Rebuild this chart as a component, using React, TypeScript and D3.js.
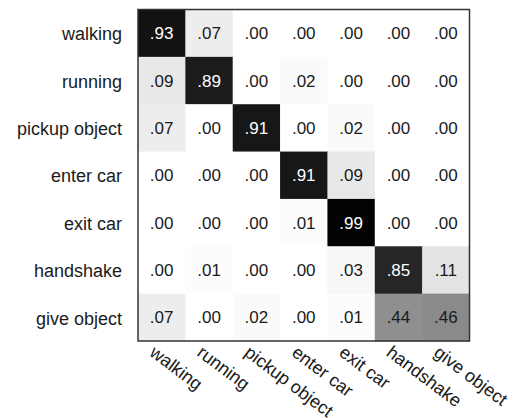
import React from "react";
import * as d3 from "d3";

const labels = ["walking", "running", "pickup object", "enter car", "exit car", "handshake", "give object"];
const walking = [0.93, 0.07, 0.0, 0.0, 0.0, 0.0, 0.0];
const running = [0.09, 0.89, 0.0, 0.02, 0.0, 0.0, 0.0];
const pickupObject = [0.07, 0.0, 0.91, 0.0, 0.02, 0.0, 0.0];
const enterCar = [0.0, 0.0, 0.0, 0.91, 0.09, 0.0, 0.0];
const exitCar = [0.0, 0.0, 0.0, 0.01, 0.99, 0.0, 0.0];
const handshake = [0.0, 0.01, 0.0, 0.0, 0.03, 0.85, 0.11];
const giveObject = [0.07, 0.0, 0.02, 0.0, 0.01, 0.44, 0.46];
const rows = [walking, running, pickupObject, enterCar, exitCar, handshake, giveObject];

const W = 516, H = 418;
const left = 138, top = 9.5, size = 331.5;
const font = "'Liberation Sans', Arial, Helvetica, sans-serif";

export default function App() {
  const x = d3.scaleBand<string>().domain(labels).range([left, left + size]);
  const y = d3.scaleBand<string>().domain(labels).range([top, top + size]);
  const gray = d3.scaleLinear<number>().domain([0, 1]).range([255, 0]);
  const fmt = (v: number) => d3.format(".2f")(v).replace(/^0/, "");
  const bw = x.bandwidth();
  const bh = y.bandwidth();
  const angle = 37;
  return (
    <svg width={W} height={H} style={{ position: "absolute", left: 0, top: 0, background: "#fff" }} fontFamily={font}>
      {rows.map((r, i) =>
        r.map((v, j) => {
          const g = Math.round(gray(v));
          return (
            <g key={`${i}-${j}`}>
              <rect x={x(labels[j])} y={y(labels[i])} width={bw + 0.5} height={bh + 0.5} fill={`rgb(${g},${g},${g})`} />
              <text
                x={(x(labels[j]) as number) + bw / 2}
                y={(y(labels[i]) as number) + bh / 2}
                dy="0.36em"
                textAnchor="middle"
                fontSize={17}
                fill={v > 0.5 ? "#fff" : "#1a1a1a"}
              >
                {fmt(v)}
              </text>
            </g>
          );
        })
      )}
      <rect x={left} y={top} width={size} height={size} fill="none" stroke="#333" strokeWidth={1.5} />
      {labels.map((l) => (
        <text key={"r" + l} x={left - 16} y={(y(l) as number) + bh / 2} dy="0.4em" textAnchor="end" fontSize={18} fill="#1a1a1a">
          {l}
        </text>
      ))}
      {labels.map((l) => {
        const cx = (x(l) as number) + bw / 2 - 5;
        const cy = top + size + 3;
        return (
          <text
            key={"c" + l}
            transform={`translate(${cx},${cy}) rotate(${angle})`}
            dy="0.75em"
            textAnchor="start"
            fontSize={18}
            fill="#1a1a1a"
          >
            {l}
          </text>
        );
      })}
    </svg>
  );
}
